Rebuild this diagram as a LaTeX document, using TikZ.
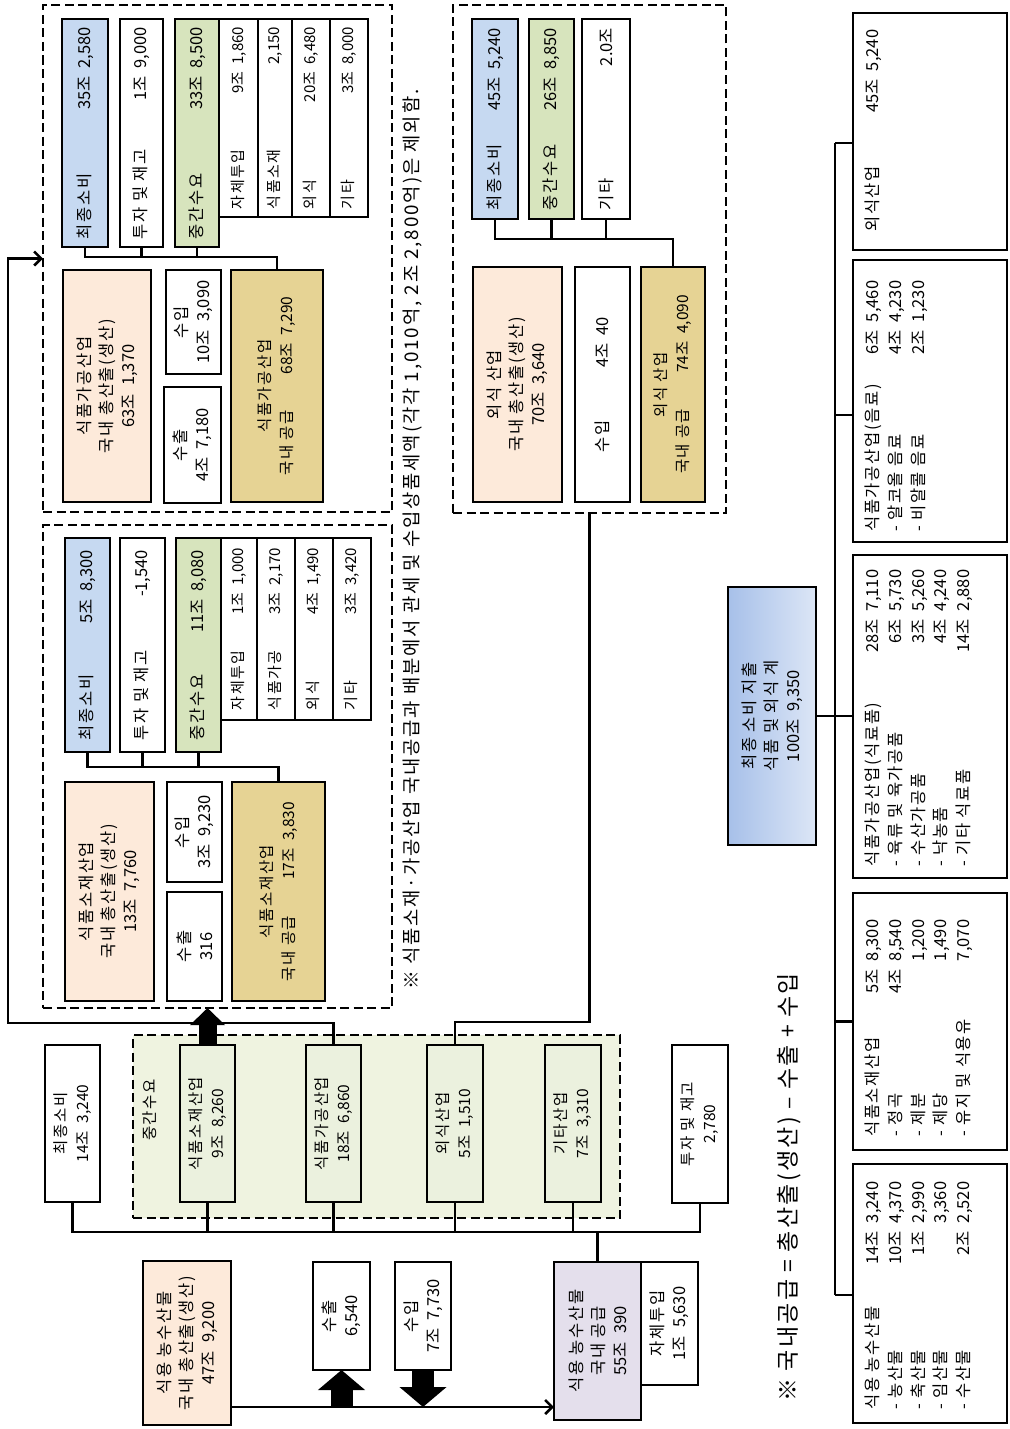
\documentclass[tikz,border=0pt]{standalone}
\usepackage{fontspec}
\setmainfont[LetterSpace=10]{Noto Sans CJK KR}
\newfontfamily\numfam[WordSpace=2.2]{Noto Sans CJK KR}
\usetikzlibrary{arrows.meta}
\definecolor{peach}{HTML}{FDEADA}
\definecolor{cblue}{HTML}{C6D9F1}
\definecolor{cgreen}{HTML}{D7E4BD}
\definecolor{cgold}{HTML}{E6D394}
\definecolor{clav}{HTML}{E4DFEC}
\definecolor{cmid}{HTML}{EFF3E0}
\definecolor{cmidbox}{HTML}{EBF1DE}
\definecolor{totdark}{HTML}{A7C0E9}
\definecolor{totlight}{HTML}{DCE6F6}
\newcommand\fsz{\fontsize{16.5}{22}\selectfont}
\newcommand\fsub{\fontsize{15}{20}\selectfont}
\newcommand\fsm{\fontsize{15.5}{22}\selectfont}
\newcommand\frt{\fontsize{16.5}{22.7}\selectfont}
\newcommand\nm[1]{{\numfam #1}}
\newcommand\rbox[7]{\node[bx,#6,minimum width={(#5)-(#3)},minimum height={(#4)-(#2)}] (#1) at ({((#2)+(#4))/2},{((#3)+(#5))/2}) {#7};}
\newcommand\mkframe[6]{\node[frm,#6,minimum width={(#4)-(#2)},minimum height={(#5)-(#3)}] (#1) at ({((#2)+(#4))/2},{((#3)+(#5))/2}) {};}
\newcommand\rowln[3]{\makebox[#1pt]{#2\hfill\nm{#3}}}
\begin{document}
\begin{tikzpicture}[x=1pt,y=-1pt,
  bx/.style={draw=black, line width=2.6pt, rotate=90, inner sep=0pt, outer sep=0pt, align=center, font=\fsz},
  subbx/.style={fill=white, font=\fsub},
  smallbx/.style={font=\fsm},
  frm/.style={draw=black, line width=2.8pt, dash pattern=on 9pt off 4.5pt, inner sep=0pt, outer sep=0pt},
  conn/.style={draw=black, line width=2.6pt},
  barb/.style={-{Straight Barb[length=7pt,width=14pt]}},
  barrowA/.style={line width=18pt, -{Triangle[length=17pt,width=34pt]}},
  barrowB/.style={line width=22pt, -{Triangle[length=20pt,width=46pt]}},
  rtx/.style={rotate=90, anchor=north west, inner sep=0pt, align=left, font=\frt},
  lbl/.style={rotate=90, inner sep=0pt}
]
\useasboundingbox (0,0) rectangle (1009,1429);
\fill[white] (0,0) rectangle (1009,1429);

% dashed frames
\mkframe{fr1}{43}{5}{392}{512}{}
\mkframe{fr2}{43}{525}{392}{1008}{}
\mkframe{fr3}{453}{5}{726}{513}{}
\mkframe{frM}{133}{1035}{620}{1218}{fill=cmid}

% group 1: food processing
\rbox{g1fin}{62}{19}{108}{247}{fill=cblue}{\rowln{212}{최종소비}{35조 2,580}}
\rbox{g1inv}{120}{19}{163}{247}{fill=white}{\rowln{212}{투자 및 재고}{1조 9,000}}
\rbox{g1mid}{175}{19}{219}{247}{fill=cgreen}{\rowln{212}{중간수요}{33조 8,500}}
\rbox{g1s1}{219}{19}{258}{217}{subbx}{\rowln{182}{자체투입}{9조 1,860}}
\rbox{g1s2}{258}{19}{292}{217}{subbx}{\rowln{182}{식품소재}{2,150}}
\rbox{g1s3}{292}{19}{330}{217}{subbx}{\rowln{182}{외식}{20조 6,480}}
\rbox{g1s4}{330}{19}{368}{217}{subbx}{\rowln{182}{기타}{3조 8,000}}
\rbox{g1out}{63}{270}{151}{502}{fill=peach}{식품가공산업\\국내 총산출(생산)\\\nm{63조 1,370}}
\rbox{g1imp}{166}{270}{221}{374}{fill=white}{수입\\\nm{10조 3,090}}
\rbox{g1exp}{164}{387}{221}{503}{fill=white}{수출\\\nm{4조 7,180}}
\rbox{g1sup}{231}{270}{323}{502}{fill=cgold,smallbx}{식품가공산업\\국내 공급\hspace{36pt}\nm{68조 7,290}}

% group 2: food materials
\rbox{g2fin}{65}{538}{110}{752}{fill=cblue}{\rowln{190}{최종소비}{5조 8,300}}
\rbox{g2inv}{120}{538}{165}{752}{fill=white}{\rowln{190}{투자 및 재고}{-1,540}}
\rbox{g2mid}{176}{538}{221}{752}{fill=cgreen}{\rowln{190}{중간수요}{11조 8,080}}
\rbox{g2s1}{221}{538}{257}{720}{subbx}{\rowln{162}{자체투입}{1조 1,000}}
\rbox{g2s2}{257}{538}{295}{720}{subbx}{\rowln{162}{식품가공}{3조 2,170}}
\rbox{g2s3}{295}{538}{333}{720}{subbx}{\rowln{162}{외식}{4조 1,490}}
\rbox{g2s4}{333}{538}{371}{720}{subbx}{\rowln{162}{기타}{3조 3,420}}
\rbox{g2out}{65}{782}{154}{1001}{fill=peach}{식품소재산업\\국내 총산출(생산)\\\nm{13조 7,760}}
\rbox{g2imp}{167}{782}{222}{882}{fill=white}{수입\\\nm{3조 9,230}}
\rbox{g2exp}{167}{892}{222}{1001}{fill=white}{수출\\\nm{316}}
\rbox{g2sup}{232}{782}{325}{1001}{fill=cgold,smallbx}{식품소재산업\\국내 공급\hspace{36pt}\nm{17조 3,830}}

% group 3: food service
\rbox{g3fin}{472}{19}{518}{219}{fill=cblue}{\rowln{182}{최종소비}{45조 5,240}}
\rbox{g3mid}{529}{19}{574}{219}{fill=cgreen}{\rowln{182}{중간수요}{26조 8,850}}
\rbox{g3oth}{582}{19}{630}{219}{fill=white}{\rowln{182}{기타}{2.0조}}
\rbox{g3out}{473}{267}{562}{502}{fill=peach}{외식 산업\\국내 총산출(생산)\\\nm{70조 3,640}}
\rbox{g3imp}{575}{267}{630}{502}{fill=white}{\rowln{135}{수입}{4조 40}}
\rbox{g3sup}{641}{267}{705}{502}{fill=cgold,smallbx}{외식 산업\\국내 공급\hspace{36pt}\nm{74조 4,090}}

% middle row
\rbox{mfin}{45}{1045}{100}{1202}{fill=white,smallbx}{최종소비\\\nm{14조 3,240}}
\rbox{mraw}{180}{1045}{235}{1202}{fill=cmidbox,smallbx}{식품소재산업\\\nm{9조 8,260}}
\rbox{mproc}{306}{1045}{361}{1202}{fill=cmidbox,smallbx}{식품가공산업\\\nm{18조 6,860}}
\rbox{mfood}{427}{1045}{483}{1202}{fill=cmidbox,smallbx}{외식산업\\\nm{5조 1,510}}
\rbox{moth}{545}{1045}{601}{1202}{fill=cmidbox,smallbx}{기타산업\\\nm{7조 3,310}}
\rbox{minv}{672}{1045}{728}{1203}{fill=white,smallbx}{투자 및 재고\\\nm{2,780}}
\node[lbl, font=\fsm] (mlab) at (150,1110) {중간수요};

% bottom row
\rbox{aout}{143}{1261}{231}{1425}{fill=peach}{식용 농수산물\\국내 총산출(생산)\\\nm{47조 9,200}}
\rbox{aexp}{313}{1262}{370}{1370}{fill=white}{수출\\\nm{6,540}}
\rbox{aimp}{395}{1262}{451}{1370}{fill=white}{수입\\\nm{7조 7,730}}
\rbox{asup}{554}{1262}{641}{1420}{fill=clav}{식용 농수산물\\국내 공급\\\nm{55조 390}}
\rbox{aself}{641}{1262}{698}{1385}{fill=white}{자체투입\\\nm{1조 5,630}}

% right side
\rbox{tot}{728}{587}{816}{845}{left color=totdark, right color=totlight}{최종 소비 지출\\식품 및 외식 계\\\nm{100조 9,350}}
\rbox{r1}{853}{13}{1007}{250}{fill=white}{}
\rbox{r2}{853}{260}{1007}{542}{fill=white}{}
\rbox{r3}{853}{555}{1007}{878}{fill=white}{}
\rbox{r4}{853}{893}{1007}{1150}{fill=white}{}
\rbox{r5}{853}{1164}{1007}{1423}{fill=white}{}
\node[rtx] (r1t) at (865,232) {\rowln{202}{외식산업}{45조 5,240}};
\node[rtx] (r2t) at (865,532) {\rowln{251}{식품가공산업(음료)}{6조 5,460}\\\rowln{251}{- 알코올 음료}{4조 4,230}\\\rowln{251}{- 비알콜 음료}{2조 1,230}};
\node[rtx] (r3t) at (865,867) {\rowln{297}{식품가공산업(식료품)}{28조 7,110}\\\rowln{297}{- 육류 및 육가공품}{6조 5,730}\\\rowln{297}{- 수산가공품}{3조 5,260}\\\rowln{297}{- 낙농품}{4조 4,240}\\\rowln{297}{- 기타 식료품}{14조 2,880}};
\node[rtx] (r4t) at (865,1137) {\rowln{217}{식품소재산업}{5조 8,300}\\\rowln{217}{- 정곡}{4조 8,540}\\\rowln{217}{- 제분}{1,200}\\\rowln{217}{- 제당}{1,490}\\\rowln{217}{- 유지 및 식용유}{7,070}};
\node[rtx] (r5t) at (865,1410) {\rowln{228}{식용 농수산물}{14조 3,240}\\\rowln{228}{- 농산물}{10조 4,370}\\\rowln{228}{- 축산물}{1조 2,990}\\\rowln{228}{- 임산물}{3,360}\\\rowln{228}{- 수산물}{2조 2,520}};

% notes
\node[lbl, anchor=west, font=\fontsize{18.8}{22}\selectfont] (note1) at (412,990) {※ 식품소재·가공산업 국내공급과 배분에서 관세 및 수입상품세액(각각 1,010억, 2조 2,800억)은 제외함.};
\node[lbl, anchor=west, font=\fontsize{23}{26}\selectfont] (note2) at (789,1402) {※ 국내공급 = 총산출(생산) – 수출 + 수입};

% coordinates for free bends
\coordinate (bus1) at (0,257);
\coordinate (bus2) at (0,767);
\coordinate (bus3) at (0,239);
\coordinate (busM) at (0,1232);
\coordinate (mainline) at (0,1407);
\coordinate (lp) at (8,1023);
\coordinate (lq) at (0,1022);
\coordinate (rbT) at (835,143);
\coordinate (rb2) at (835,415);
\coordinate (rbB) at (835,1295);

% group buses
\draw[conn] (g1fin.west) |- (g1sup.east |- bus1) -- (g1sup.east);
\draw[conn] (g1inv.west) -- (g1inv.west |- bus1);
\draw[conn] (g1mid.west) -- (g1mid.west |- bus1);
\draw[conn] (g2fin.west) |- (g2sup.east |- bus2) -- (g2sup.east);
\draw[conn] (g2inv.west) -- (g2inv.west |- bus2);
\draw[conn] (g2mid.west) -- (g2mid.west |- bus2);
\draw[conn] (g3fin.west) |- (g3sup.east |- bus3) -- (g3sup.east);
\draw[conn] (g3mid.west) -- (g3mid.west |- bus3);
\draw[conn] (g3oth.west) -- (g3oth.west |- bus3);

% middle bus
\draw[conn] (mfin.west) |- (minv.west |- busM) -- (minv.west);
\foreach \n in {mraw,mproc,mfood,moth} \draw[conn] (\n.west) -- (\n.west |- busM);
\draw[conn] (asup.east |- busM) -- (asup.east);

% long feedback lines
\draw[conn, barb] (mproc.east) |- (lp) |- (fr1.west);
\draw[conn] (mfood.east) |- (fr3.south |- lq) -- (fr3.south);

% block arrows
\draw[barrowA] (mraw.east) -- (mraw.east |- fr2.south);
\draw[conn, barb] (aout.south |- mainline) -- (asup.north |- mainline);
\draw[barrowB] (aexp.west |- mainline) -- (aexp.west);
\draw[barrowB] (aimp.west) -- (aimp.west |- mainline);

% right-side tree
\draw[conn] (rbT) -- (rbB);
\draw[conn] (rbT) -- (r1.north |- rbT);
\draw[conn] (rb2) -- (r2.north |- rb2);
\draw[conn] (tot.south) -- (r3.north |- tot.south);
\draw[conn] (r4.north) -- (r4.north -| rbT);
\draw[conn] (rbB) -- (r5.north |- rbB);
\end{tikzpicture}
\end{document}
